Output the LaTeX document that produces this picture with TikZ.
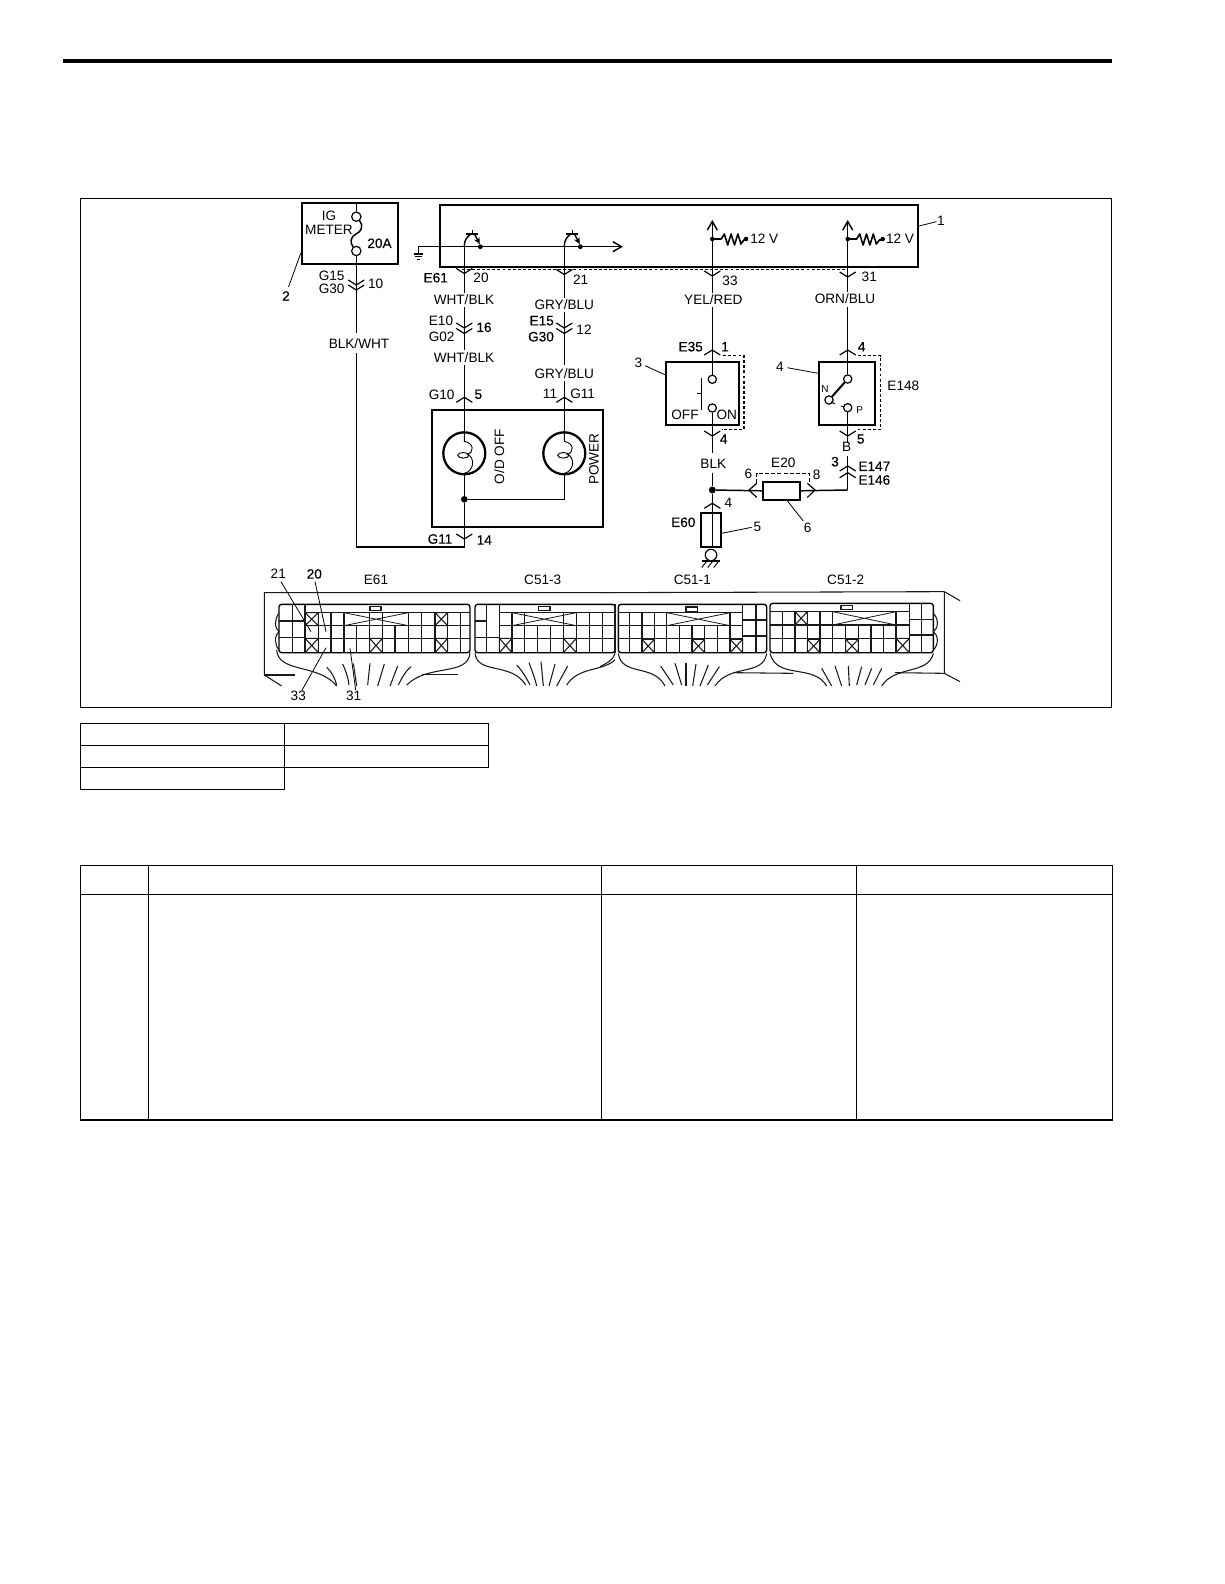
\documentclass[tikz,border=0pt]{standalone}
\usepackage{fontspec}
\setmainfont{Liberation Sans}
\newfontfamily\heavyfont[FakeBold=0.35]{Liberation Sans}
\usetikzlibrary{arrows.meta}
\tikzset{
  wire/.style={line width=1.1pt,line join=miter},
  thin wire/.style={line width=0.7pt},
  boxline/.style={line width=1.3pt},
  frameline/.style={line width=1.1pt},
  pin/.style={line width=0.9pt},
  leader/.style={line width=0.6pt},
  dashbox/.style={line width=1pt,dash pattern=on 2.2pt off 1.6pt},
  lab/.style={font=\fontsize{10.2}{10.2}\selectfont,inner sep=0pt,text=black},
  heavy/.style={font=\fontsize{10.2}{10.2}\selectfont\heavyfont,inner sep=0pt,text=black},
  small lab/.style={font=\fontsize{7.5}{7.5}\selectfont,inner sep=0pt,text=black},
  term/.style={circle,draw,line width=0.9pt,fill=white,minimum size=6.2pt,inner sep=0pt},
  junction/.style={circle,fill=black,minimum size=#1,inner sep=0pt},
  junction/.default=4pt,
  lamp/.style={circle,draw,line width=1.7pt,minimum size=31.5pt,inner sep=0pt},
  barb/.style={-{Straight Barb[length=6.5pt,width=7.5pt]}},
  grid line/.style={line width=0.8pt,black!90},
  fine line/.style={line width=0.6pt,black!90}
}
\newcommand\Vpin[2]{\draw[pin] (#1,#2) ++(-8,-5) -- ++(8,5) -- ++(8,-5);}
\newcommand\Apin[2]{\draw[pin] (#1,#2) ++(-8,5) -- ++(8,-5) -- ++(8,5);}
\newcommand\Lb[4]{\node[lab] (#1) at (#2,#3) {#4};}
\newcommand\Hb[4]{\node[heavy] (#1) at (#2,#3) {#4};}
\newcommand\xcell[4]{\draw[grid line] (#1,#2) rectangle (#3,#4) (#1,#2) -- (#3,#4) (#1,#4) -- (#3,#2);}
\newcommand\bigx[4]{\draw[fine line] (#1,#2) -- (#3,#4) (#1,#4) -- (#3,#2);}
\newcommand\coil[2]{%
  \draw[thin wire] (#1,#2-21) -- (#1,#2-12) .. controls (#1+10,#2-10) and (#1+10,#2-1) .. (#1+3,#2+1)
     .. controls (#1+11,#2+4) and (#1+10,#2+18) .. (#1,#2+20);
  \draw[thin wire] (#1-1,#2+2) ellipse (5.6 and 2.8);}
\newcommand\resist[2]{%
  \draw[line width=1.2pt,line join=round] (#1,#2) -- ++(9,0) -- ++(3,-5) -- ++(3.4,11) -- ++(3.4,-11) -- ++(3.4,11) -- ++(3.4,-11) -- ++(3,10) -- ++(3,-4) -- ++(3,0);}
\newcommand\transistor[2]{%
  \draw[wire] (#1,#2) .. controls (#1,#2-6) and (#1+2,#2-9) .. (#1+5.5,#2-12);
  \draw[wire] (#1+2,#2-12.5) -- (#1+14,#2-12.5);
  \draw[wire] (#1+8,#2-12.5) -- (#1+8,#2-16.5);
  \draw[wire,-{Stealth[length=5pt,width=4.5pt]}] (#1+10.5,#2-12) -- (#1+15.5,#2-2.5);
  \node[junction=3.6pt] at (#1+16,#2) {};}
\begin{document}
\begin{tikzpicture}[x=0.75pt,y=-0.75pt]
\useasboundingbox (0,0) rectangle (1224,1584);
\draw[line width=3pt] (63,61) -- (1112,61);
% frame and empty tables
\draw[frameline] (80.3,198.3) rectangle (1111.5,707.3);
\draw[frameline] (80.3,723.3) rectangle (284.7,745.3);
\draw[frameline] (284.7,723.3) rectangle (488.3,745.3);
\draw[frameline] (80.3,745.3) rectangle (284.7,767.3);
\draw[frameline] (284.7,745.3) rectangle (488.3,767.3);
\draw[frameline] (80.3,767.3) rectangle (284.7,789.3);
\draw[frameline] (80.3,865.3) rectangle (1112.3,1120);
\draw[frameline] (80.3,894.3) -- (1112.3,894.3);
\draw[frameline] (148.3,865.3) -- (148.3,1120);
\draw[frameline] (601.5,865.3) -- (601.5,1120);
\draw[frameline] (856.5,865.3) -- (856.5,1120);

% fuse box 2
\draw[boxline] (301.7,203.3) rectangle (397.7,264);
\node[term,minimum size=7pt] (fuA) at (356.3,216.7) {};
\node[term,minimum size=7pt] (fuB) at (356.3,251) {};
\coordinate (igTop) at (356.3,203.3);
\coordinate (igBot) at (356.3,333);
\coordinate (igRes) at (356.3,353);
\coordinate (gndC) at (356.3,547);
\draw[wire] (igTop) -- (fuA);
\draw[wire] (fuA) .. controls (364,226) and (361,232) .. (356,234) .. controls (350,237) and (350,243) .. (fuB);
\draw[wire] (fuB) -- (igBot);
\draw[wire] (igRes) -- (gndC);
\Lb{ig}{329}{216}{IG}
\Lb{meter}{329}{229.5}{METER}
\Hb{twenty}{379.5}{243.3}{20A}
\Hb{ntwo}{286}{296}{2}
\draw[leader] (300.7,253.3) -- (288.5,287);
\Lb{gfifteen}{331.7}{276}{G15}
\Lb{gthirty}{331.7}{289}{G30}
\Lb{nten}{375.7}{284.3}{10}
\Vpin{356.3}{285}\Vpin{356.3}{290}
\Lb{blkwht}{359}{344}{BLK/WHT}

% control module 1
\draw[boxline] (440,205) rectangle (917.7,266.7);
\Lb{none}{941}{220.7}{1}
\draw[leader] (919,226) -- (936.5,221.7);
\coordinate (gndT) at (418.3,246.7);
\coordinate (gndB) at (418.3,253);
\coordinate (busEnd) at (623,246.7);
\draw[wire,barb] (gndT) -- (busEnd);
\draw[thin wire] (gndT) -- (gndB);
\draw[wire] (413.5,254) -- (423,254);
\draw[wire] (415,256.7) -- (421.5,256.7);
\draw[wire] (416.5,259.4) -- (420,259.4);
\draw[dashbox] (462,269.3) -- (847.7,269.3);

% lamp circuit
\node[lamp] (lampA) at (464.3,453.3) {};
\node[lamp] (lampB) at (564.3,453.3) {};
\transistor{464.3}{246.7}
\transistor{564.3}{246.7}
\coordinate (a0) at (464.3,246.7);
\coordinate (a1) at (464.3,293);
\coordinate (a2) at (464.3,306.7);
\coordinate (a3) at (464.3,350);
\coordinate (a4) at (464.3,365);
\coordinate (b0) at (564.3,246.7);
\coordinate (b1) at (564.3,298);
\coordinate (b2) at (564.3,311.7);
\coordinate (b3) at (564.3,365);
\coordinate (b4) at (564.3,380.7);
\node[junction=5pt] (lampJ) at (464.3,499.3) {};
\draw[wire] (a0) -- (a1) (a2) -- (a3);
\draw[wire] (a4) -- (lampA.north);
\draw[wire] (b0) -- (b1) (b2) -- (b3);
\draw[wire] (b4) -- (lampB.north);
\draw[wire] (lampA.south) -- (lampJ);
\draw[wire] (lampB.south) |- (lampJ);
\draw[wire] (gndC) -| (lampJ);
\coil{464.3}{453.3}
\coil{564.3}{453.3}
\draw[boxline] (432.3,410) rectangle (603.3,527.3);
\Vpin{464.3}{273.5}\Vpin{564.3}{274.5}
\Vpin{464.3}{328}\Vpin{464.3}{333.5}
\Vpin{564.3}{328}\Vpin{564.3}{333.5}
\Apin{464.3}{397.3}\Apin{564.3}{397.3}
\Vpin{464.3}{539}
\Hb{esixone}{435.7}{277.7}{E61}
\Lb{ntw}{481}{278.3}{20}
\Lb{ntwo1}{580.7}{279.3}{21}
\Lb{wb1}{464}{300}{WHT/BLK}
\Lb{wb2}{464}{357.7}{WHT/BLK}
\Lb{eten}{441}{320.7}{E10}
\Lb{gzero}{441.7}{336.7}{G02}
\Hb{nsix}{484}{327.3}{16}
\Lb{gb1}{564.3}{304.3}{GRY/BLU}
\Lb{gb2}{564.3}{373.3}{GRY/BLU}
\Hb{efif}{541.7}{320.7}{E15}
\Hb{gth}{541}{336.7}{G30}
\Lb{ntwelve}{584}{329.3}{12}
\Lb{gten}{441.7}{395}{G10}
\Hb{nfive}{478.3}{394.3}{5}
\Lb{nel}{550}{394.3}{11}
\Lb{gel}{582.7}{394.3}{G11}
\Hb{gelb}{440}{539}{G11}
\Hb{nfourteen}{484.3}{540}{14}
\node[lab,rotate=90] (odoff) at (499.3,456.7) {O/D OFF};
\node[lab,rotate=90] (power) at (594,459.3) {POWER};

% right-hand wires
\coordinate (c0) at (712.3,220);
\coordinate (c1) at (712.3,293);
\coordinate (c2) at (712.3,307.3);
\coordinate (d0) at (847.7,220);
\coordinate (d1) at (847.7,291.7);
\coordinate (d2) at (847.7,306.7);
\node[junction=3.4pt] (rA) at (712.3,239) {};
\node[junction=3.4pt] (rB) at (847.7,239) {};
\node[junction=3.4pt] (rAe) at (746,239) {};
\node[junction=3.4pt] (rBe) at (882.7,239) {};
\draw[wire,barb] (c1) -- (c0);
\draw[wire,barb] (d1) -- (d0);
\resist{712.3}{239}
\resist{847.7}{239}
\Lb{vA}{764.3}{239}{12 V}
\Lb{vB}{900}{239}{12 V}
\Vpin{712.3}{276}\Vpin{847.7}{277}
\Lb{nthree}{730}{280.7}{33}
\Lb{nthone}{869.3}{277.3}{31}
\Lb{yr}{713.3}{300}{YEL/RED}
\Lb{ob}{845}{298.3}{ORN/BLU}

% switch 3
\draw[boxline] (666.3,362.3) rectangle (738.7,425);
\draw[dashbox] (723.3,355.7) -- (744,355.7) -- (744,429.3) -- (721.5,429.3);
\node[term] (s3a) at (712.3,379.3) {};
\node[term] (s3b) at (712.3,408) {};
\draw[wire] (c2) -- (s3a);
\draw[wire] (701.7,378) -- (701.7,410);
\draw[wire] (696.7,393.3) -- (701.7,393.3);
\coordinate (e1) at (712.3,453);
\coordinate (e2) at (712.3,472.7);
\node[junction=5.2pt] (eJ) at (712.3,490) {};
\draw[wire] (s3b) -- (e1);
\draw[wire] (e2) -- (eJ);
\Apin{712.3}{350}\Vpin{712.3}{436}\Apin{712.3}{503.3}
\Hb{ethree}{690.7}{346.7}{E35}
\Hb{none2}{725}{346.7}{1}
\Lb{nthr}{638.3}{362.7}{3}
\draw[leader] (645,365.7) -- (665.7,375);
\Lb{off}{685}{415.3}{OFF}
\Lb{on}{726.7}{415.3}{ON}
\Hb{nfour}{723.7}{439}{4}
\Lb{blk}{713.3}{464}{BLK}
\Lb{nfourb}{728.3}{503.3}{4}

% part 5 with ground
\draw[boxline] (701,512.7) rectangle (721,547.3);
\node[circle,draw,line width=0.9pt,minimum size=8.6pt,inner sep=0pt] (gc) at (711,555) {};
\draw[wire] (eJ) -- (712.3,512.7) -- (712.3,547.3);
\draw[wire] (701.7,561) -- (720,561);
\draw[thin wire] (706.5,561.5) -- (701.7,567.5) (712.5,561.5) -- (707.7,567.5) (718.5,561.5) -- (713.7,567.5);
\Hb{esixty}{683.3}{522.3}{E60}
\Lb{nfv}{757.3}{527.3}{5}
\draw[leader] (721.7,533.3) -- (751.7,527.3);

% switch 4
\draw[boxline] (819.3,362) rectangle (874.7,425);
\draw[dashbox] (858,355.7) -- (880.7,355.7) -- (880.7,429.3) -- (856.7,429.3);
\node[term] (s4a) at (847.7,379) {};
\node[term] (s4n) at (829,400) {};
\node[term] (s4p) at (847.7,407.7) {};
\draw[wire] (d2) -- (s4a);
\draw[line width=1.5pt] (s4a) -- (s4n);
\draw[thin wire] (831,401.7) -- (835,404);
\draw[thin wire] (840.7,406) -- (s4p);
\coordinate (f1) at (847.7,443);
\coordinate (f2) at (847.7,456);
\coordinate (f3) at (847.7,490);
\draw[wire] (s4p) -- (f1);
\draw[wire] (f2) -- (f3);
\Apin{847.7}{350}\Vpin{847.7}{436}
\Apin{847.7}{466}\Apin{847.7}{472.7}
\Hb{nfr}{861.7}{346.7}{4}
\Lb{nfrb}{780}{366.7}{4}
\draw[leader] (787.3,367.7) -- (818.3,373.3);
\node[small lab] (lN) at (825,389.3) {N};
\node[small lab] (lP) at (859.7,410) {P};
\Lb{eoneforty}{903.3}{385.7}{E148}
\Hb{nfvb}{860.7}{439}{5}
\Lb{lB}{846.7}{447.3}{B}
\Hb{nthb}{835}{461.7}{3}
\Hb{efs}{874.3}{466.3}{E147}
\Hb{efx}{874.3}{480}{E146}

% fuse 6
\node[draw,line width=1.3pt,minimum width=27.5pt,minimum height=13.4pt,inner sep=0pt] (fuse) at (781.5,490.8) {};
\draw[wire] (eJ) -- (fuse.west);
\draw[wire] (fuse.east) -- (f3);
\draw[pin] (756.7,483.3) -- (749,490) -- (756.7,497.5);
\draw[pin] (807.3,483.3) -- (815,490) -- (807.3,497.5);
\draw[dashbox,dash pattern=on 3pt off 1.6pt] (756.7,483.3) -- (756.7,473.3) -- (809.3,473.3) -- (809.3,483.3);
\Lb{nsixa}{748.3}{474.3}{6}
\Lb{etwenty}{783.3}{463.3}{E20}
\Lb{neight}{816.7}{475}{8}
\Lb{nsixb}{807.7}{527.7}{6}
\draw[leader] (787.3,500.7) -- (803.3,521);

% connector strip labels
\Lb{ltwoone}{278.3}{574}{21}
\Hb{ltwozero}{314.3}{574}{20}
\Lb{lesix}{376}{580}{E61}
\Lb{lcthree}{542.7}{580}{C51-3}
\Lb{lcone}{692.3}{580}{C51-1}
\Lb{lctwo}{845.7}{580}{C51-2}
\Lb{lthreethree}{298.3}{696}{33}
\Lb{lthreeone}{353.7}{696}{31}
\draw[leader] (281,581.7) -- (311,631.7);
\draw[leader] (315,581.7) -- (326,631.7);
\draw[leader] (301.7,690.7) -- (326,647.7);
\draw[leader] (355.7,690) -- (350,648.3);

% connector strip, left half (crop coordinates)
\begin{scope}[shift={(255,560)},x=0.25pt,y=-0.25pt]
  \draw[grid line] (80,378) -- (28,345) -- (28,98) -- (1080,98);
  \draw[grid line] (28,345) -- (120,345) (500,343) -- (610,343);
  % E61
  \draw[line width=1pt,rounded corners=2pt] (72,133) rectangle (645,278);
  \draw[grid line] (150,158) -- (645,158) (150,197) -- (645,197) (150,235) -- (645,235);
  \draw[grid line] (72,183) -- (150,183) (72,232) -- (150,232);
  \foreach \c in {112,150} \draw[grid line] (\c,133) -- (\c,278);
  \foreach \c in {190,228,267,460,500,540,578,617} \draw[grid line] (\c,158) -- (\c,278);
  \foreach \c in {305,344,382,420} \draw[grid line] (\c,197) -- (\c,278);
  \draw[grid line] (344,158) -- (344,197) (382,158) -- (382,197);
  \draw[grid line] (345,140) rectangle (378,152);
  \xcell{150}{158}{190}{197}\xcell{150}{235}{190}{278}\xcell{344}{235}{382}{278}
  \xcell{540}{158}{578}{197}\xcell{540}{235}{578}{278}
  \bigx{267}{158}{460}{197}
  \draw[grid line] (72,160) .. controls (58,175) and (58,205) .. (72,215) .. controls (58,225) and (58,255) .. (72,270);
  \draw[grid line] (65,270) .. controls (70,340) and (190,310) .. (245,378);
  \draw[grid line] (645,278) .. controls (640,350) and (520,310) .. (455,375);
  \draw[grid line] (215,322) .. controls (230,335) and (240,355) .. (245,375);
  \draw[grid line] (263,312) .. controls (272,330) and (280,355) .. (282,375);
  \draw[grid line] (295,310) -- (305,378);
  \draw[grid line] (345,310) -- (338,375);
  \draw[grid line] (388,312) -- (368,378);
  \draw[grid line] (428,318) -- (405,378);
  \draw[grid line] (468,320) .. controls (450,335) and (440,355) .. (430,375);
  % C51-3
  \draw[line width=1pt,rounded corners=2pt] (660,133) rectangle (1080,278);
  \draw[grid line] (733,158) -- (1080,158) (733,197) -- (1080,197) (733,235) -- (1080,235);
  \draw[grid line] (660,183) -- (695,183) (660,232) -- (733,232);
  \foreach \c in {695,733} \draw[grid line] (\c,133) -- (\c,278);
  \foreach \c in {771,964,1003,1042} \draw[grid line] (\c,158) -- (\c,278);
  \foreach \c in {809,848,886} \draw[grid line] (\c,197) -- (\c,278);
  \draw[grid line] (809,158) -- (809,197) (925,158) -- (925,278);
  \draw[grid line] (850,140) rectangle (885,152);
  \xcell{733}{235}{771}{278}\xcell{925}{235}{964}{278}
  \bigx{771}{158}{964}{197}
  \draw[grid line] (660,278) .. controls (665,345) and (770,305) .. (812,375);
  \draw[grid line] (785,315) .. controls (800,330) and (815,355) .. (825,375);
  \draw[grid line] (822,308) .. controls (830,330) and (840,355) .. (845,378);
  \draw[grid line] (858,305) -- (865,378);
  \draw[grid line] (900,312) -- (882,378);
  \draw[grid line] (938,318) -- (905,378);
  \draw[grid line] (1080,300) .. controls (1040,335) and (970,320) .. (935,375);
\end{scope}
% connector strip, right half (crop coordinates)
\begin{scope}[shift={(600,560)},x=0.25pt,y=-0.25pt]
  \draw[grid line] (1033,95) -- (1033,340) (1033,95) -- (1080,122) (1033,340) -- (1080,365);
  \draw[grid line] (0,98) -- (1033,95);
  \draw[grid line] (400,338) -- (580,340) (885,338) -- (1033,340);
  % right end of C51-3
  \draw[grid line] (45,133) -- (45,278);
  \draw[grid line] (45,280) .. controls (40,300) and (20,310) .. (0,320);
  % C51-1
  \draw[line width=1pt,rounded corners=2pt] (55,133) rectangle (500,278);
  \draw[grid line] (55,158) -- (428,158) (55,197) -- (428,197) (55,235) -- (428,235);
  \draw[grid line] (428,180) -- (500,180) (428,228) -- (500,228);
  \foreach \c in {428,468} \draw[grid line] (\c,133) -- (\c,278);
  \foreach \c in {88,126,163,200,390} \draw[grid line] (\c,158) -- (\c,278);
  \foreach \c in {238,276,314,352} \draw[grid line] (\c,197) -- (\c,278);
  \draw[grid line] (258,141) rectangle (292,154);
  \xcell{126}{238}{163}{278}\xcell{276}{238}{314}{278}\xcell{390}{238}{428}{278}
  \bigx{200}{158}{390}{197}
  \draw[grid line] (55,280) .. controls (65,350) and (160,310) .. (195,378);
  \draw[grid line] (500,280) .. controls (490,350) and (390,310) .. (345,378);
  \draw[grid line] (182,318) -- (220,375);
  \draw[grid line] (225,310) -- (245,375);
  \draw[grid line] (258,308) -- (258,378);
  \draw[grid line] (288,312) -- (278,378);
  \draw[grid line] (325,315) -- (300,378);
  \draw[grid line] (358,320) -- (322,375);
  % C51-2
  \draw[line width=1pt,rounded corners=2pt] (510,130) rectangle (1000,278);
  \draw[grid line] (510,155) -- (928,155) (510,195) -- (928,195) (510,235) -- (928,235);
  \draw[grid line] (928,178) -- (1000,178) (928,225) -- (1000,225);
  \foreach \c in {928,965} \draw[grid line] (\c,130) -- (\c,278);
  \foreach \c in {548,585,622,660,698,888} \draw[grid line] (\c,155) -- (\c,278);
  \foreach \c in {737,775,813,851} \draw[grid line] (\c,195) -- (\c,278);
  \draw[grid line] (723,136) rectangle (757,148);
  \xcell{585}{155}{622}{195}\xcell{622}{238}{660}{278}\xcell{737}{238}{775}{278}\xcell{888}{235}{928}{278}
  \bigx{698}{155}{888}{195}
  \draw[grid line] (1000,160) .. controls (1016,175) and (1016,205) .. (1000,215) .. controls (1016,225) and (1016,255) .. (1000,270);
  \draw[grid line] (510,280) .. controls (530,360) and (640,310) .. (680,378);
  \draw[grid line] (1000,280) .. controls (985,345) and (885,315) .. (845,378);
  \draw[grid line] (665,325) -- (695,378);
  \draw[grid line] (705,318) -- (725,378);
  \draw[grid line] (745,318) -- (748,378);
  \draw[grid line] (785,320) -- (770,375);
  \draw[grid line] (815,325) -- (795,375);
  \draw[grid line] (845,325) -- (820,375);
\end{scope}
\end{tikzpicture}
\end{document}
